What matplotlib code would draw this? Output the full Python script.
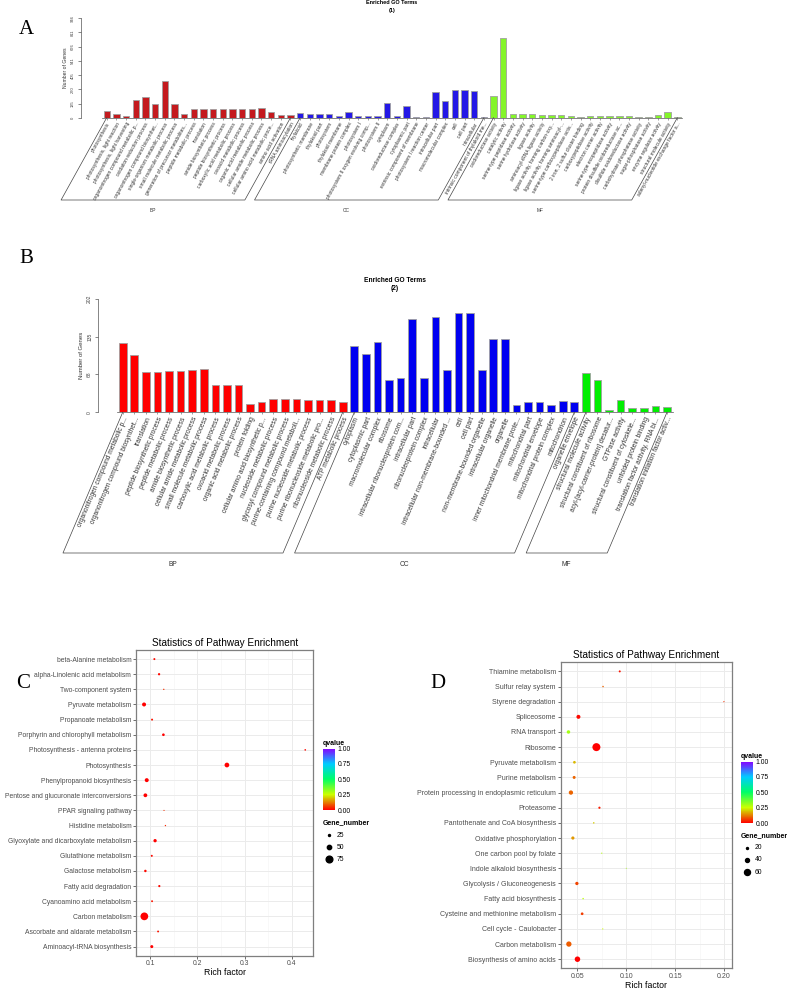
import numpy as np
import matplotlib
matplotlib.use('Agg')
import matplotlib.pyplot as plt
from matplotlib.colors import LinearSegmentedColormap, Normalize
from matplotlib.cm import ScalarMappable
from matplotlib.lines import Line2D

plt.rcParams['font.family'] = ['Liberation Sans', 'DejaVu Sans']

# ---------------- data: panel A (Enriched GO Terms (1)) ----------------
a_bp_terms = ["photosynthesis", "photosynthesis, light reaction", "photosynthesis, light harvesting",
              "organonitrogen compound metabolic p...", "oxidation-reduction process",
              "organonitrogen compound biosynthet...", "single-organism metabolic process",
              "small molecule metabolic process", "generation of precursor metabolites...",
              "peptide metabolic process", "translation", "amide biosynthetic process",
              "peptide biosynthetic process", "carboxylic acid metabolic process",
              "oxoacid metabolic process", "organic acid metabolic process",
              "cellular amide metabolic process", "cellular amino acid metabolic proce...",
              "amino acid activation", "tRNA aminoacylation"]
a_bp_vals = [63, 32, 16, 168, 197, 133, 346, 130, 38, 82, 79, 82, 82, 82, 82, 82, 89, 51, 22, 22]
a_cc_terms = ["thylakoid", "photosynthetic membrane", "thylakoid part", "photosystem",
              "thylakoid membrane", "membrane protein complex", "photosystem I",
              "photosystem II oxygen evolving comp...", "photosystem II", "cytoplasm",
              "oxidoreductase complex", "cytoplasmic part", "extrinsic component of membrane",
              "photosystem I reaction center", "intracellular part", "macromolecular complex",
              "cell", "cell part", "intracellular", "intrinsic component of thylakoid me..."]
a_cc_vals = [41, 38, 38, 32, 19, 57, 13, 13, 13, 143, 16, 108, 6, 6, 244, 159, 266, 266, 250, 3]
a_mf_terms = ["oxidoreductase activity", "catalytic activity", "serine-type peptidase activity",
              "serine hydrolase activity", "ligase activity", "aminoacyl-tRNA ligase activity",
              "ligase activity, forming carbon-oxy...", "ligase activity, forming aminoacyl-...",
              "serine-type carboxypeptidase activ...", "2 iron, 2 sulfur cluster binding",
              "carboxypeptidase activity", "electron carrier activity",
              "serine-type exopeptidase activity", "protein disulfide oxidoreductase ac...",
              "disulfide oxidoreductase activity", "carbohydrate phosphatase activity",
              "sugar-phosphatase activity", "enzyme regulator activity",
              "structural molecule activity", "adenyl-nucleotide exchange factor a..."]
a_mf_vals = [203, 755, 32, 32, 38, 22, 22, 22, 13, 6, 13, 19, 13, 13, 13, 6, 6, 22, 54, 3]
a_yticks = [0, 135, 270, 405, 541, 676, 811, 946]

# ---------------- data: panel B (Enriched GO Terms (2)) ----------------
b_bp_terms = ["organonitrogen compound metabolic p...", "organonitrogen compound biosynthet...",
              "translation", "peptide biosynthetic process", "peptide metabolic process",
              "amide biosynthetic process", "cellular amide metabolic process",
              "small molecule metabolic process", "carboxylic acid metabolic process",
              "oxoacid metabolic process", "organic acid metabolic process", "protein folding",
              "cellular amino acid biosynthetic p...", "nucleoside metabolic process",
              "glycosyl compound metabolic process", "purine-containing compound metaboli...",
              "purine nucleoside metabolic process", "purine ribonucleoside metabolic pro...",
              "ribonucleoside metabolic process", "ATP metabolic process"]
b_bp_vals = [124, 103, 72, 72, 73, 73, 76, 77, 48, 48, 48, 14, 18, 24, 24, 24, 22, 22, 22, 18]
b_cc_terms = ["cytoplasm", "cytoplasmic part", "macromolecular complex", "ribosome",
              "intracellular ribonucleoprotein com...", "intracellular part",
              "ribonucleoprotein complex", "intracellular", "intracellular non-membrane-bounded ...",
              "cell", "cell part", "non-membrane-bounded organelle", "intracellular organelle",
              "organelle", "inner mitochondrial membrane prote...", "mitochondrial part",
              "mitochondrial envelope", "mitochondrial protein complex", "mitochondrion",
              "organelle envelope"]
b_cc_vals = [118, 104, 126, 57, 61, 167, 61, 170, 76, 177, 177, 76, 131, 131, 13, 19, 18, 13, 20, 19]
b_mf_terms = ["structural molecule activity", "structural constituent of ribosome",
              "acyl-[acyl-carrier-protein] desatur...", "GTPase activity",
              "structural constituent of cytoskele...", "unfolded protein binding",
              "translation factor activity, RNA bi...", "translation initiation factor activ..."]
b_mf_vals = [70, 58, 5, 22, 8, 8, 12, 10]
b_yticks = [0, 68, 135, 202]

# ---------------- data: panel C (pathway enrichment) ----------------
c_terms = ["beta-Alanine metabolism", "alpha-Linolenic acid metabolism", "Two-component system",
           "Pyruvate metabolism", "Propanoate metabolism", "Porphyrin and chlorophyll metabolism",
           "Photosynthesis - antenna proteins", "Photosynthesis", "Phenylpropanoid biosynthesis",
           "Pentose and glucuronate interconversions", "PPAR signaling pathway",
           "Histidine metabolism", "Glyoxylate and dicarboxylate metabolism",
           "Glutathione metabolism", "Galactose metabolism", "Fatty acid degradation",
           "Cyanoamino acid metabolism", "Carbon metabolism", "Ascorbate and aldarate metabolism",
           "Aminoacyl-tRNA biosynthesis"]
c_rich = [0.1085, 0.1185, 0.1285, 0.0866, 0.1036, 0.1277, 0.429, 0.2626, 0.0923, 0.0894,
          0.129, 0.132, 0.110, 0.103, 0.0894, 0.119, 0.1036, 0.0872, 0.1164, 0.103]
c_genes = [25, 28, 18, 46, 25, 32, 21, 54, 46, 44, 16, 18, 39, 25, 30, 27, 24, 86, 24, 36]
c_q = [0.01, 0.01, 0.05, 0.0, 0.02, 0.0, 0.01, 0.0, 0.0, 0.0, 0.05, 0.04, 0.0, 0.01, 0.01,
       0.01, 0.02, 0.0, 0.02, 0.0]
c_xticks = [0.1, 0.2, 0.3, 0.4]
c_xlabels = ['0.1', '0.2', '0.3', '0.4']
c_leg = [25, 50, 75]

# ---------------- data: panel D (pathway enrichment) ----------------
d_terms = ["Thiamine metabolism", "Sulfur relay system", "Styrene degradation", "Spliceosome",
           "RNA transport", "Ribosome", "Pyruvate metabolism", "Purine metabolism",
           "Protein processing in endoplasmic reticulum", "Proteasome",
           "Pantothenate and CoA biosynthesis", "Oxidative phosphorylation",
           "One carbon pool by folate", "Indole alkaloid biosynthesis",
           "Glycolysis / Gluconeogenesis", "Fatty acid biosynthesis",
           "Cysteine and methionine metabolism", "Cell cycle - Caulobacter", "Carbon metabolism",
           "Biosynthesis of amino acids"]
d_rich = [0.0933, 0.0762, 0.2, 0.051, 0.0408, 0.0694, 0.0469, 0.0466, 0.0433, 0.0725, 0.0667,
          0.0453, 0.0749, 0.10, 0.0494, 0.0558, 0.0548, 0.0759, 0.0412, 0.050]
d_genes = [20, 15, 12, 40, 35, 80, 27, 30, 43, 22, 15, 32, 12, 10, 33, 15, 27, 12, 53, 55]
d_q = [0.02, 0.1, 0.05, 0.01, 0.3, 0.0, 0.18, 0.1, 0.1, 0.03, 0.2, 0.15, 0.28, 0.3, 0.07, 0.27,
       0.06, 0.25, 0.09, 0.0]
d_xticks = [0.05, 0.10, 0.15, 0.20]
d_xlabels = ['0.05', '0.10', '0.15', '0.20']
d_leg = [20, 40, 60]

W, H = 787, 988
fig = plt.figure(figsize=(W / 100, H / 100), dpi=100)


def box(x0, y0, x1, y1):
    # pixel box, top-left origin -> figure fraction rect
    return [x0 / W, 1 - y1 / H, (x1 - x0) / W, (y1 - y0) / H]


def go_bars(groups, vals, cols, names, yticks, axis_x, c0, sp, right, y_top, y_bot,
            base_y, lab_fs, tick_fs, rot, title, sub, title_x, title_y, title_fs):
    terms = sum(groups, [])
    heights = sum(vals, [])
    colors = sum([[c] * len(g) for g, c in zip(groups, cols)], [])
    n = len(terms)
    ymax = yticks[-1]
    ax = fig.add_axes(box(axis_x, y_top, right, y_bot))
    x = np.arange(n)
    ax.bar(x, heights, width=0.66, color=colors, edgecolor='#a0a0a0', linewidth=0.6)
    ax.set_xlim(-(c0 - axis_x) / sp, (right - c0) / sp)
    ax.set_ylim(0, ymax)
    ax.patch.set_alpha(0)
    ax.spines['top'].set_visible(False)
    ax.spines['right'].set_visible(False)
    ax.spines['left'].set_bounds(0, ymax)
    ax.spines['bottom'].set_bounds(-0.5, n - 0.5)
    for s in ['left', 'bottom']:
        ax.spines[s].set_linewidth(0.5)
        ax.spines[s].set_color('#555555')
    ax.set_yticks(yticks)
    ax.set_yticklabels([str(v) for v in yticks], rotation=90, va='center', fontsize=tick_fs,
                       color='#444444')
    ax.tick_params(axis='y', length=2.5, width=0.5, pad=1.5, color='#555555')
    ax.set_ylabel('Number of Genes', fontsize=tick_fs + 0.7, labelpad=2, color='#333333')
    ax.set_xticks(x)
    ax.set_xticklabels(terms, rotation=rot, ha='right', va='top', rotation_mode='anchor',
                       fontsize=lab_fs, color='#333333')
    ax.tick_params(axis='x', length=1.5, width=0.4, pad=1.2, color='#555555')

    # group brackets under the labels
    ang = np.radians(rot)
    dx = (base_y - y_bot) / np.tan(ang)
    start = 0
    for g, name in zip(groups, names):
        p0 = c0 + start * sp
        p1 = c0 + (start + len(g) - 1) * sp
        start += len(g)
        xs = [p0, p0 - dx, p1 - dx, p1]
        ys = [y_bot, base_y, base_y, y_bot]
        fig.add_artist(Line2D([v / W for v in xs], [1 - v / H for v in ys],
                              color='#444444', lw=0.5))
        fig.text(((p0 + p1) / 2 - dx) / W, 1 - (base_y + 11) / H, name, ha='center',
                 va='center', fontsize=lab_fs, color='#333333')

    fig.text(title_x / W, 1 - title_y / H, title, ha='center', va='center',
             fontsize=title_fs, weight='bold')
    fig.text(title_x / W, 1 - (title_y + 7.5) / H, sub, ha='center', va='center',
             fontsize=title_fs, weight='bold')
    return ax


go_bars([a_bp_terms, a_cc_terms, a_mf_terms], [a_bp_vals, a_cc_vals, a_mf_vals],
        ['#C41A1E', '#2418E6', '#84F52A'], ['BP', 'CC', 'MF'], a_yticks,
        axis_x=80.7, c0=106.7, sp=9.672, right=690, y_top=18.3, y_bot=117.7, base_y=200,
        lab_fs=3.5, tick_fs=3.0, rot=61, title='Enriched GO Terms', sub='(1)',
        title_x=392, title_y=3, title_fs=4.0)

go_bars([b_bp_terms, b_cc_terms, b_mf_terms], [b_bp_vals, b_cc_vals, b_mf_vals],
        ['#FF0000', '#0000F0', '#00EE00'], ['BP', 'CC', 'MF'], b_yticks,
        axis_x=97.7, c0=122.7, sp=11.58, right=680, y_top=299.3, y_bot=412.3, base_y=553,
        lab_fs=4.8, tick_fs=3.6, rot=67, title='Enriched GO Terms', sub='(2)',
        title_x=395, title_y=281, title_fs=4.8)

# ---------------- dot plots ----------------
qcmap = LinearSegmentedColormap.from_list('q', ['#FF0000', '#CCFF00', '#00FF66', '#00CCFF',
                                               '#8800FF'])
qnorm = Normalize(0, 1)


def dot_size(v, a, b):
    d = a * np.asarray(v, dtype=float) + b  # diameter in pixels
    return d * 0.72  # points


def dot_panel(terms, rich, genes, q, xticks, xlabels, pbox, size_ab, cbar_box, leg_vals,
              leg_x, gene_title_y, leg_ys, lab_fs):
    ax = fig.add_axes(box(*pbox))
    n = len(terms)
    y = np.arange(n)[::-1]
    lo, hi = min(rich), max(rich)
    pad = 0.05 * (hi - lo)
    ax.set_xlim(lo - pad, hi + pad)
    ax.set_ylim(-0.6, n - 0.4)
    ax.set_xticks(xticks)
    ax.set_xticklabels(xlabels)
    ax.set_xticks([(a + b) / 2 for a, b in zip(xticks[:-1], xticks[1:])], minor=True)
    ax.set_yticks(y)
    ax.set_yticklabels(terms)
    ax.grid(True, which='major', color='#EBEBEB', lw=0.7)
    ax.grid(True, which='minor', axis='x', color='#F4F4F4', lw=0.45)
    ax.set_axisbelow(True)
    for s in ax.spines.values():
        s.set_color('#7F7F7F')
        s.set_linewidth(0.9)
    ax.tick_params(axis='both', which='major', length=2.2, width=0.5, color='#333333',
                   labelsize=lab_fs, labelcolor='#4D4D4D', pad=1.2)
    ax.tick_params(axis='x', which='minor', length=0)
    ax.scatter(rich, y, s=dot_size(genes, *size_ab) ** 2, c=q, cmap=qcmap, norm=qnorm,
               linewidths=0, zorder=3)
    ax.set_xlabel('Rich factor', fontsize=6.3, labelpad=0.5)
    ax.set_title('Statistics of Pathway Enrichment', fontsize=7.2, pad=3.2)

    cax = fig.add_axes(box(*cbar_box))
    cb = fig.colorbar(ScalarMappable(norm=qnorm, cmap=qcmap), cax=cax)
    cb.outline.set_visible(False)
    cb.set_ticks([0, 0.25, 0.5, 0.75, 1.0])
    cb.set_ticklabels(['0.00', '0.25', '0.50', '0.75', '1.00'])
    cax.tick_params(length=0, labelsize=4.9, pad=2)
    fig.text(cbar_box[0] / W, 1 - (cbar_box[1] - 5) / H, 'qvalue', fontsize=5.0,
             weight='bold', va='center')
    fig.text(cbar_box[0] / W, 1 - gene_title_y / H, 'Gene_number', fontsize=5.0,
             weight='bold', va='center')
    ms = dot_size(leg_vals, *size_ab)
    for v, m, ly in zip(leg_vals, ms, leg_ys):
        fig.add_artist(Line2D([leg_x / W], [1 - ly / H], marker='o', markersize=m,
                              color='black', lw=0))
        fig.text((leg_x + 7.5) / W, 1 - ly / H, str(v), fontsize=4.9, va='center')
    return ax


dot_panel(c_terms, c_rich, c_genes, c_q, c_xticks, c_xlabels, (136, 650, 313.3, 955.7),
          (0.094, -0.35), (323, 748.5, 335, 810), c_leg, 329.3, 823, [835.3, 847.3, 859.3],
          4.85)

dot_panel(d_terms, d_rich, d_genes, d_q, d_xticks, d_xlabels, (560.7, 662.3, 731.7, 968.3),
          (0.1, 0.0), (741, 761.5, 753, 823), d_leg, 747.3, 836, [847.7, 859.7, 872], 5.0)

# panel letters
for lab, lx, ly in [('A', 19, 30), ('B', 19, 258), ('C', 16, 684), ('D', 430, 684)]:
    fig.text(lx / W, 1 - ly / H, lab, fontsize=15, family='Liberation Serif', va='center')

fig.savefig('out.png', dpi=100)
